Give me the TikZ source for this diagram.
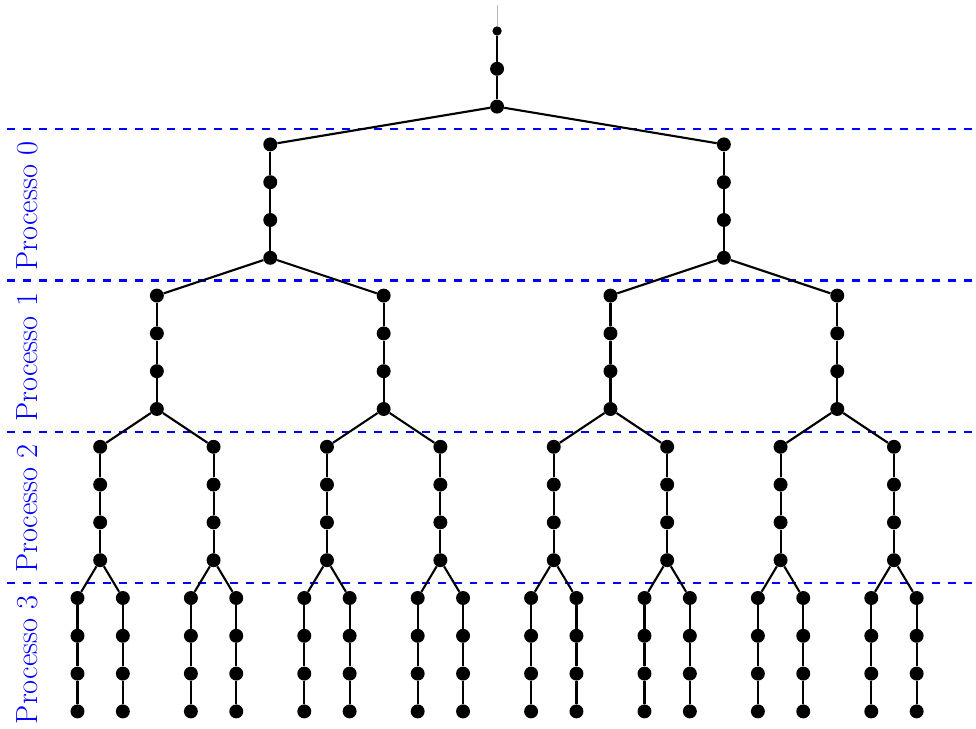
\documentclass[tikz,border=0pt]{standalone}
\usetikzlibrary{calc}
\begin{document}
\begin{tikzpicture}[x=1cm,y=-1cm,
  dot/.style={circle,fill=black,inner sep=0pt,minimum size=10.5pt},
  smalldot/.style={circle,fill=black,inner sep=0pt,minimum size=7pt},
  edge/.style={line width=1.6pt},
  sep/.style={blue,line width=1.6pt,dash pattern=on 6pt off 6pt},
  lbl/.style={blue,rotate=90,anchor=base,font=\fontsize{23}{28}\selectfont}]
\useasboundingbox (0,0) rectangle (25.82,19.26);

% process boundaries
\foreach \k/\y in {a/3.42, b/7.42, c/11.42, d/15.42} {
  \coordinate (sl-\k) at (0.19,\y);
  \coordinate (sr-\k) at (25.82,\y);
  \draw[sep] (sl-\k) -- (sr-\k);
}

% process labels
\node[lbl] (p0) at (1.0,5.45) {Processo 0};
\node[lbl] (p1) at (1.0,9.45) {Processo 1};
\node[lbl] (p2) at (1.0,13.45) {Processo 2};
\node[lbl] (p3) at (1.0,17.45) {Processo 3};

% root chain
\coordinate (top) at (13.15,0.13);
\node[smalldot] (n-0-0-1) at (13.15,0.82) {};
\node[dot] (n-0-0-2) at (13.15,1.82) {};
\node[dot] (n-0-0-4) at (13.15,2.82) {};
\draw[gray!55,line width=0.6pt] (top) -- (n-0-0-1);
\draw[edge] (n-0-0-1) -- (n-0-0-2) -- (n-0-0-4);

% binary tree of chains, each child offset by \d from its parent
\foreach \L/\P/\d/\m in {1/0/6/1, 2/1/3/3, 3/2/1.5/7, 4/3/0.6/15} {
  \foreach \i in {0,...,\m} {
    \pgfmathtruncatemacro{\p}{floor(\i/2)}
    \pgfmathtruncatemacro{\s}{2*mod(\i,2)-1}
    \node[dot] (n-\L-\i-1) at ($(n-\P-\p-4)+(\s*\d,1)$) {};
    \foreach \j in {2,3,4} {
      \node[dot] (n-\L-\i-\j) at ($(n-\L-\i-1)+(0,\j-1)$) {};
    }
    \draw[edge] (n-\P-\p-4) -- (n-\L-\i-1);
    \draw[edge] (n-\L-\i-1) -- (n-\L-\i-2) -- (n-\L-\i-3) -- (n-\L-\i-4);
  }
}
\end{tikzpicture}
\end{document}
